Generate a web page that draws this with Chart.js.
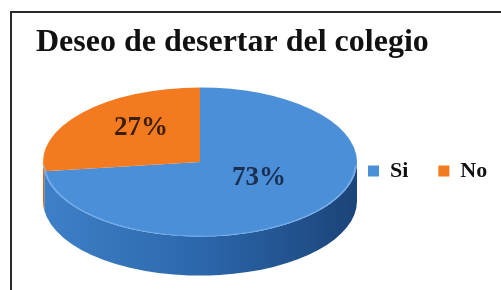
<!DOCTYPE html>
<html>
<head>
<meta charset="utf-8">
<script src="https://cdn.jsdelivr.net/npm/chart.js@4.4.1/dist/chart.umd.min.js"></script>
<style>
  html, body { margin: 0; padding: 0; background: #fff; }
  #frame { position: absolute; left: 10px; top: 11px; width: 600px; height: 400px; border: 2px solid #2a2a2a; box-sizing: border-box; }
  #wrap { position: absolute; left: 0; top: 0; width: 501px; height: 290px; }
</style>
</head>
<body>
<div id="frame"></div>
<div id="wrap"><canvas id="chart" width="501" height="290"></canvas></div>
<script>
const categories = ["Si", "No"];
const percents = [73, 27];

const topColors = ["#4b8fd8", "#f47a20"];
const sideColors = [["#3e80c8", "#2c67ac", "#1b4479"], ["#d9661a", "#c45a14", "#a84c10"]];
const labelColors = ["#1b2f52", "#3a1f08"];

// ellipse geometry of the tilted pie
const PIE = { cx: 200, cy: 162, r: 157, squash: 0.475, depth: 39, labelLift: 9 };

const pie3d = {
  id: "pie3d",
  afterLayout(chart) {
    const { cx, cy, r } = PIE;
    chart.chartArea = { left: cx - r, right: cx + r, top: cy - r, bottom: cy + r, width: 2 * r, height: 2 * r };
    const lg = chart.legend;
    const w = lg.width, h = lg.height;
    lg.left = 338; lg.top = 130; lg.right = lg.left + w; lg.bottom = lg.top + h;
  },
  beforeDatasetsDraw(chart) {
    const ctx = chart.ctx;
    const arcs = chart.getDatasetMeta(0).data;
    const { cy, squash, depth } = PIE;
    ctx.save();
    ctx.translate(0, cy);
    ctx.scale(1, squash);
    ctx.translate(0, -cy);
    const d = depth / squash;
    arcs.forEach((arc, i) => {
      for (const off of [0, 2 * Math.PI, -2 * Math.PI]) {
        const s = Math.max(arc.startAngle + off, 0);
        const e = Math.min(arc.endAngle + off, Math.PI);
        if (e <= s) continue;
        const g = ctx.createLinearGradient(arc.x - arc.outerRadius, 0, arc.x + arc.outerRadius, 0);
        g.addColorStop(0, sideColors[i][0]);
        g.addColorStop(0.5, sideColors[i][1]);
        g.addColorStop(1, sideColors[i][2]);
        ctx.beginPath();
        ctx.arc(arc.x, arc.y, arc.outerRadius, s, e);
        ctx.arc(arc.x, arc.y + d, arc.outerRadius, e, s, true);
        ctx.closePath();
        ctx.fillStyle = g;
        ctx.fill();
      }
    });
    // the top face is drawn by Chart.js inside this squashed transform
  },
  afterDatasetsDraw(chart) {
    const ctx = chart.ctx;
    const arcs = chart.getDatasetMeta(0).data;
    const a = arcs[0];
    ctx.beginPath();
    ctx.arc(a.x, a.y, a.outerRadius - 1, 0.05, Math.PI - 0.05);
    ctx.strokeStyle = "rgba(140,190,245,0.55)";
    ctx.lineWidth = 2;
    ctx.stroke();
    ctx.restore();

    const { cy, squash, labelLift } = PIE;
    ctx.save();
    ctx.font = "bold 27px 'Liberation Serif'";
    ctx.textAlign = "center";
    ctx.textBaseline = "middle";
    arcs.forEach((arc, i) => {
      const p = arc.getCenterPoint();
      ctx.fillStyle = labelColors[i];
      ctx.fillText(percents[i] + "%", p.x, cy + (p.y - cy) * squash - labelLift);
    });
    ctx.restore();
  }
};

new Chart(document.getElementById("chart"), {
  type: "pie",
  data: {
    labels: categories,
    datasets: [{
      data: percents,
      backgroundColor: topColors,
      borderWidth: 0,
      clip: false,
    }],
  },
  options: {
    responsive: false,
    animation: false,
    events: [],
    layout: { padding: { left: 36, top: 12, right: 0, bottom: 0 } },
    plugins: {
      title: {
        display: true,
        text: "Deseo de desertar del colegio",
        align: "start",
        color: "#111",
        font: { family: "'Liberation Serif'", size: 32, weight: "bold" },
        padding: { top: 12, bottom: 0 },
      },
      legend: {
        position: "bottom",
        align: "start",
        labels: {
          color: "#111",
          boxWidth: 11,
          boxHeight: 11,
          padding: 30,
          font: { family: "'Liberation Serif'", size: 22, weight: "bold" },
        },
      },
      tooltip: { enabled: false },
    },
  },
  plugins: [pie3d],
});
</script>
</body>
</html>
